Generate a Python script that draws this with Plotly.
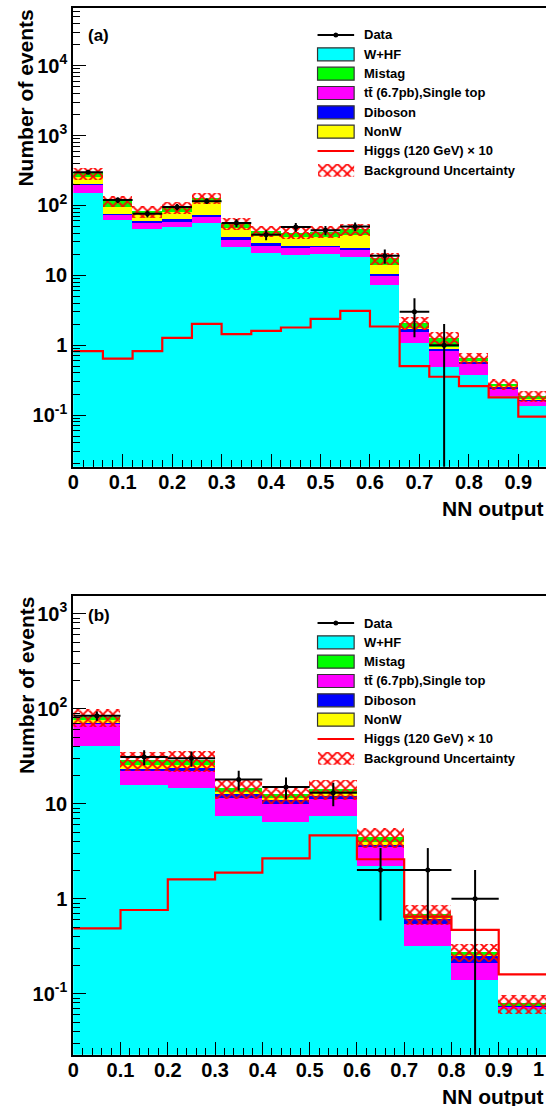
import numpy as np
import plotly.graph_objects as go

# ---------------- Panel (a): NN output, bins of 0.06 ----------------
edges_a = [0.00, 0.06, 0.12, 0.18, 0.24, 0.30, 0.36, 0.42, 0.48, 0.54,
           0.60, 0.66, 0.72, 0.78, 0.84, 0.90, 0.96]
whf_a = [150, 61, 45.9, 49, 56, 25.4, 20.9, 19.5, 20, 18.3, 7.2, 1.08, 0.49, 0.37, 0.183, 0.134]
tt_a = [50, 12.6, 9.4, 8.8, 12, 6.2, 5.4, 4.8, 5.4, 4.5, 2.5, 0.47, 0.34, 0.177, 0.052, 0.026]
dib_a = [3, 1.4, 4.4, 5.2, 4, 3.3, 2.4, 1.9, 0.8, 1.5, 0.6, 0.14, 0.065, 0.033, 0.018, 0.008]
nonw_a = [46, 19.6, 13.9, 17, 40, 11.5, 8.6, 9.3, 9.1, 13, 3.6, 0.03, 0.035, 0.005, 0.002, 0.002]
mistag_a = [35, 20.4, 8.4, 12.6, 15, 8.3, 5.2, 5, 6.3, 7.6, 3.4, 0.36, 0.34, 0.06, 0.019, 0.013]
unc_a = [54, 22, 16, 18, 24, 10, 8, 8, 8, 8.5, 3.3, 0.45, 0.28, 0.12, 0.05, 0.033]
data_a = [299, 119, 76, 95, 115, 56, 38, 49, 44, 50, 19, 3, 1, 0, 0, 0]
err_a = [17.3, 10.9, 8.7, 9.7, 10.7, 7.5, 6.2, 7.0, 6.6, 7.1, 4.4, 1.7, 1.0, 0, 0, 0]
higgs_a = [0.82, 0.64, 0.82, 1.27, 2.02, 1.44, 1.6, 1.79, 2.38, 3.09, 1.85, 0.5, 0.353, 0.26, 0.179, 0.095]

# ---------------- Panel (b): NN output, bins of 0.1 ----------------
edges_b = [0.0, 0.1, 0.2, 0.3, 0.4, 0.5, 0.6, 0.7, 0.8, 0.9, 1.0]
whf_b = [40.8, 15.7, 14.9, 7.43, 6.47, 7.43, 2.22, 0.32, 0.139, 0.0695]
tt_b = [29.2, 6.9, 7.2, 4.17, 3.46, 3.77, 1.3, 0.222, 0.073, 0.0045]
dib_b = [1, 1, 1.8, 1.0, 0.97, 0.8, 0.21, 0.078, 0.043, 0.0015]
nonw_b = [5, 1.9, 1.8, 0.8, 0.8, 0.9, 0.25, 0.015, 0.005, 0.001]
mistag_b = [6, 3.3, 3.1, 1.5, 1.0, 1.6, 0.52, 0.065, 0.017, 0.0035]
unc_b = [18, 6.3, 7, 3.6, 2.8, 3.4, 1.05, 0.17, 0.06, 0.018]
data_b = [84, 31, 30, 18, 15, 13, 2, 2, 1, 0]
err_b = [9.2, 5.6, 5.5, 4.2, 3.9, 3.6, 1.41, 1.41, 1.0, 0]
higgs_b = [0.488, 0.76, 1.6, 1.88, 2.66, 4.65, 2.6, 0.647, 0.469, 0.16]

x_ticks = [0, 0.1, 0.2, 0.3, 0.4, 0.5, 0.6, 0.7, 0.8, 0.9, 1.0]
x_ticktext = ["0", "0.1", "0.2", "0.3", "0.4", "0.5", "0.6", "0.7", "0.8", "0.9", "1"]

legend_labels = ["Data", "W+HF", "Mistag", "tt\u0304 (6.7pb),Single top", "Diboson", "NonW",
                 "Higgs (120 GeV) \u00d7 10", "Background Uncertainty"]

COLORS = ["#00FFFF", "#FF00FF", "#0000FF", "#FFFF00", "#00FF00"]  # W+HF, tt, diboson, NonW, Mistag
FONT = "Liberation Sans, Arial, sans-serif"
W, H = 546, 1106
HATCH = dict(shape="x", fgcolor="#FF0000", bgcolor="rgba(0,0,0,0)", size=7, solidity=0.45, fgopacity=1)

fig = go.Figure()


def add_panel(xa, ya, edges, comps, unc, data, err, higgs):
    e = np.array(edges, dtype=float)
    lo, hi = e[:-1], e[1:]
    ctr = (lo + hi) / 2
    wid = hi - lo
    base = np.zeros(len(lo))
    for i, (vals, col) in enumerate(zip(comps, COLORS)):
        v = np.array(vals, dtype=float)
        fig.add_trace(go.Bar(x=ctr, y=v, base=None if i == 0 else base.copy(), width=wid,
                             marker=dict(color=col, line=dict(width=0)),
                             xaxis=xa, yaxis=ya, showlegend=False, hoverinfo="skip"))
        base = base + v
    u = np.array(unc, dtype=float)
    fig.add_trace(go.Bar(x=ctr, y=2 * u, base=base - u, width=wid,
                         marker=dict(color="rgba(0,0,0,0)", line=dict(width=0), pattern=HATCH),
                         xaxis=xa, yaxis=ya, showlegend=False, hoverinfo="skip"))
    hg = list(higgs) + [higgs[-1]]
    fig.add_trace(go.Scatter(x=e, y=hg, mode="lines", line=dict(color="#FF0000", width=2.2, shape="hv"),
                             xaxis=xa, yaxis=ya, showlegend=False, hoverinfo="skip"))
    d = np.array(data, dtype=float)
    er = np.array(err, dtype=float)
    xs, ys = [], []
    for i in range(len(d)):
        if d[i] <= 0:
            continue
        xs += [ctr[i], ctr[i], None, lo[i], hi[i], None]
        ys += [max(d[i] - er[i], 1e-4), d[i] + er[i], None, d[i], d[i], None]
    fig.add_trace(go.Scatter(x=xs, y=ys, mode="lines", line=dict(color="black", width=2),
                             xaxis=xa, yaxis=ya, showlegend=False, hoverinfo="skip", connectgaps=False))
    m = d > 0
    fig.add_trace(go.Scatter(x=ctr[m], y=d[m], mode="markers", marker=dict(color="black", size=5),
                             xaxis=xa, yaxis=ya, showlegend=False, hoverinfo="skip"))


add_panel("x", "y", edges_a, [whf_a, tt_a, dib_a, nonw_a, mistag_a], unc_a, data_a, err_a, higgs_a)
add_panel("x2", "y2", edges_b, [whf_b, tt_b, dib_b, nonw_b, mistag_b], unc_b, data_b, err_b, higgs_b)


def pxy(y):
    return 1 - y / H


def xaxis_cfg(dom_y_anchor, rng):
    return dict(domain=[68 / W, 1], range=rng, anchor=dom_y_anchor,
                showline=True, linecolor="black", linewidth=1.5, mirror=True,
                showgrid=False, zeroline=False,
                tickmode="array", tickvals=x_ticks, ticktext=x_ticktext,
                ticks="inside", ticklen=13, tickwidth=1, tickcolor="black",
                ticklabelstandoff=-3,
                minor=dict(ticks="inside", ticklen=7, tickwidth=1, tickcolor="black",
                           tickmode="linear", tick0=0, dtick=0.02),
                tickfont=dict(family=FONT, size=20, color="black", weight="bold"),
                fixedrange=True)


def yaxis_cfg(dom, rng, anchor):
    lo, hi = int(np.floor(rng[0])), int(np.ceil(rng[1]))
    majors = [10.0 ** k for k in range(lo, hi + 1)]
    texts = []
    for k in range(lo, hi + 1):
        if k == 0:
            texts.append("1")
        elif k == 1:
            texts.append("10")
        else:
            texts.append("10<sup>%d</sup>" % k)
    minors = [j * 10.0 ** k for k in range(lo, hi + 1) for j in range(2, 10)]
    return dict(domain=dom, type="log", range=rng, anchor=anchor,
                showline=True, linecolor="black", linewidth=2, mirror=False,
                showgrid=False, zeroline=False,
                tickmode="array", tickvals=majors, ticktext=texts,
                ticks="inside", ticklen=13, tickwidth=1, tickcolor="black",
                minor=dict(ticks="inside", ticklen=7, tickwidth=1, tickcolor="black",
                           tickmode="array", tickvals=minors),
                tickfont=dict(family=FONT, size=20, color="black", weight="bold"),
                fixedrange=True)


TOP_A, BOT_A = 8.3, 466.7
TOP_B, BOT_B = 595.7, 1054.7

layout = dict(
    width=W, height=H, margin=dict(l=0, r=0, t=0, b=0),
    paper_bgcolor="white", plot_bgcolor="white",
    barmode="overlay", bargap=0, showlegend=False,
    xaxis=xaxis_cfg("y", [0, 0.956]),
    yaxis=yaxis_cfg([pxy(BOT_A), pxy(TOP_A)], [-1.739, 4.82], "x"),
    xaxis2=xaxis_cfg("y2", [0, 1.0]),
    yaxis2=yaxis_cfg([pxy(BOT_B), pxy(TOP_B)], [-1.642, 3.189], "x2"),
)
fig.update_layout(**layout)

# ---------------- Hand-built legends (ROOT style) ----------------
shapes, annos = [], []
LEG_X0, LEG_X1, TXT_X = 315, 352, 360
STEP = 19.33
box_fill = {1: COLORS[0], 2: COLORS[4], 3: COLORS[1], 4: COLORS[2], 5: COLORS[3]}

for pi, off in enumerate([0.0, 588.0]):
    y0 = 35 + off
    for i, lab in enumerate(legend_labels):
        yc = y0 + STEP * i
        if i == 0:
            shapes.append(dict(type="line", xref="paper", yref="paper", x0=LEG_X0 / W, x1=LEG_X1 / W,
                               y0=pxy(yc), y1=pxy(yc), line=dict(color="black", width=2)))
            shapes.append(dict(type="circle", xref="paper", yref="paper",
                               x0=(333.5 - 2.5) / W, x1=(333.5 + 2.5) / W,
                               y0=pxy(yc + 2.5), y1=pxy(yc - 2.5),
                               fillcolor="black", line=dict(width=0)))
        elif i in box_fill:
            shapes.append(dict(type="rect", xref="paper", yref="paper", x0=LEG_X0 / W, x1=LEG_X1 / W,
                               y0=pxy(yc + 6.5), y1=pxy(yc - 6.5), fillcolor=box_fill[i],
                               line=dict(color="#333333", width=1.2)))
        elif i == 6:
            shapes.append(dict(type="line", xref="paper", yref="paper", x0=LEG_X0 / W, x1=LEG_X1 / W,
                               y0=pxy(yc), y1=pxy(yc), line=dict(color="#FF0000", width=2)))
        annos.append(dict(xref="paper", yref="paper", x=TXT_X / W, y=pxy(yc), xanchor="left",
                          yanchor="middle", showarrow=False, text=lab,
                          font=dict(family=FONT, size=13, color="black", weight="bold")))
    # hatched legend symbol drawn in a tiny helper axis
    yc = y0 + STEP * 7
    xa_name, ya_name = "x%d" % (3 + pi), "y%d" % (3 + pi)
    fig.update_layout(**{
        "xaxis%d" % (3 + pi): dict(domain=[LEG_X0 / W, LEG_X1 / W], range=[0, 1], visible=False,
                                   anchor=ya_name, fixedrange=True),
        "yaxis%d" % (3 + pi): dict(domain=[pxy(yc + 6.5), pxy(yc - 6.5)], range=[0, 1], visible=False,
                                   anchor=xa_name, fixedrange=True),
    })
    fig.add_trace(go.Bar(x=[0.5], y=[1], width=[1], xaxis=xa_name, yaxis=ya_name,
                         marker=dict(color="rgba(0,0,0,0)", line=dict(width=0), pattern=HATCH),
                         showlegend=False, hoverinfo="skip"))

# axis titles and panel tags
for top, bot, tag, tag_y in [(TOP_A, BOT_A, "(a)", 35.5), (TOP_B, BOT_B, "(b)", 615.5)]:
    annos.append(dict(xref="paper", yref="paper", x=20 / W, y=pxy(top + 89.5), xanchor="center",
                      yanchor="middle", textangle=-90, showarrow=False, text="Number of events",
                      font=dict(family=FONT, size=21, color="black", weight="bold")))
    annos.append(dict(xref="paper", yref="paper", x=545 / W, y=pxy(bot + 41.5), xanchor="right",
                      yanchor="middle", showarrow=False, text="NN output",
                      font=dict(family=FONT, size=21, color="black", weight="bold")))
    annos.append(dict(xref="paper", yref="paper", x=94 / W, y=pxy(tag_y), xanchor="center",
                      yanchor="middle", showarrow=False, text=tag,
                      font=dict(family=FONT, size=17, color="black", weight="bold")))

# last tick label of panel (b), which sits on the right edge of the canvas
annos.append(dict(xref="paper", yref="paper", x=1.0, y=pxy(BOT_B + 14.5), xanchor="right",
                  yanchor="middle", showarrow=False, text=x_ticktext[-1],
                  font=dict(family=FONT, size=20, color="black", weight="bold")))

fig.update_layout(shapes=shapes, annotations=annos)
fig.write_html("out.html", config={"displayModeBar": False},
               post_script="document.body.style.margin='0';document.body.style.overflow='hidden';"
                           "document.documentElement.style.overflow='hidden';")
